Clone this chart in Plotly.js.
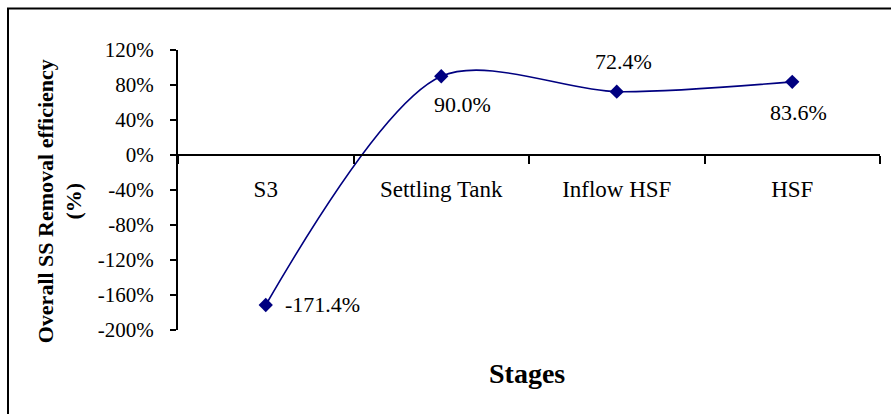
<!DOCTYPE html>
<html>
<head>
<meta charset="utf-8">
<script src="https://cdn.plot.ly/plotly-3.0.1.min.js"></script>
<style>
html,body{margin:0;padding:0;background:#fff;}
#chart{width:891px;height:414px;}
</style>
</head>
<body>
<div id="chart"></div>
<script>
var stages = ['S3', 'Settling Tank', 'Inflow HSF', 'HSF'];
var efficiency = [-171.4, 90.0, 72.4, 83.6];
var yTickVals = [-200, -160, -120, -80, -40, 0, 40, 80, 120];
var yTickText = ['-200%', '-160%', '-120%', '-80%', '-40%', '0%', '40%', '80%', '120%'];
var labelShiftX = [57, 21, 7, 6];
var labelShiftY = [0, -28, 30, -31];

var font = '"Liberation Serif", "Times New Roman", Times, serif';

var trace = {
  x: stages,
  y: efficiency,
  type: 'scatter',
  mode: 'lines+markers',
  line: {color: '#000080', width: 1.6, shape: 'spline', smoothing: 0.85},
  marker: {symbol: 'diamond', size: 11, color: '#000080'},
  hoverinfo: 'none'
};

var annotations = stages.map(function (s, i) {
  return {
    x: s, y: efficiency[i], xref: 'x', yref: 'y',
    text: efficiency[i].toFixed(1) + '%',
    showarrow: false,
    xshift: labelShiftX[i], yshift: labelShiftY[i],
    font: {family: font, size: 22, color: '#000'}
  };
});
annotations.push({
  xref: 'paper', yref: 'paper', x: -0.168, y: 0.46,
  xanchor: 'center', yanchor: 'middle',
  text: '<b>Overall SS Removal efficiency<br>(%)</b>',
  textangle: -90, showarrow: false,
  font: {family: font, size: 22, color: '#000'}
});
annotations.push({
  xref: 'paper', yref: 'paper', x: 0.497, y: -0.157,
  xanchor: 'center', yanchor: 'middle',
  text: '<b>Stages</b>', showarrow: false,
  font: {family: font, size: 28, color: '#000'}
});

var layout = {
  width: 891, height: 414,
  font: {family: font},
  margin: {l: 178, r: 11, t: 50, b: 84},
  paper_bgcolor: '#fff', plot_bgcolor: '#fff',
  showlegend: false,
  xaxis: {
    type: 'category', range: [-0.5, 3.5],
    anchor: 'free', position: 0.625,
    showline: true, linecolor: '#000', linewidth: 2,
    ticks: 'outside', tickson: 'boundaries', ticklen: 8, tickwidth: 2, tickcolor: '#000',
    ticklabelstandoff: 13,
    showgrid: false, zeroline: false,
    tickfont: {family: font, size: 23, color: '#000'}
  },
  yaxis: {
    range: [-200, 120], tickmode: 'array', tickvals: yTickVals, ticktext: yTickText,
    showline: true, linecolor: '#000', linewidth: 2,
    ticks: 'outside', ticklen: 6, tickwidth: 2, tickcolor: '#000',
    ticklabelstandoff: 12,
    showgrid: false, zeroline: false,
    tickfont: {family: font, size: 21, color: '#000'}
  },
  shapes: [{
    type: 'rect', xref: 'paper', yref: 'paper',
    x0: (8 - 178) / 702, x1: 1.2, y0: -0.5, y1: (330 - 8.5) / 280,
    line: {color: '#000', width: 2}, fillcolor: 'rgba(0,0,0,0)', layer: 'below'
  }],
  annotations: annotations
};

Plotly.newPlot('chart', [trace], layout, {staticPlot: true, displayModeBar: false});
</script>
</body>
</html>
